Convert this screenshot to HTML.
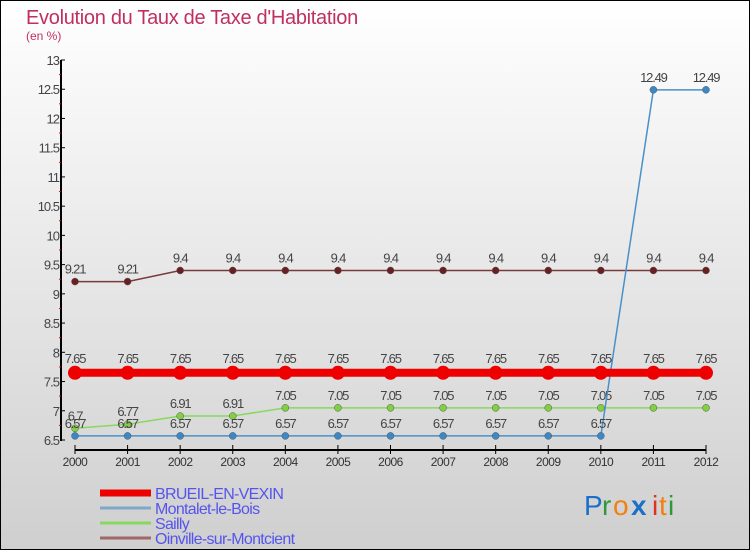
<!DOCTYPE html>
<html><head><meta charset="utf-8"><style>
body{margin:0;width:750px;height:550px;overflow:hidden}
svg{display:block;font-family:"Liberation Sans",sans-serif}
</style></head><body>
<svg width="750" height="550">
<defs><linearGradient id="bg" x1="0" y1="0" x2="0" y2="1"><stop offset="0" stop-color="#ffffff"/><stop offset="1" stop-color="#cfcfcf"/></linearGradient></defs>
<rect x="0.5" y="0.5" width="749" height="549" fill="url(#bg)" stroke="#000"/>
<text x="26" y="24" font-size="20" fill="#c0305e" letter-spacing="-0.3">Evolution du Taux de Taxe d'Habitation</text>
<text x="26" y="40" font-size="12" fill="#c0305e">(en %)</text>
<g id="axes"></g><g id="series"></g><g id="legend"></g>
<g font-size="28">
<text x="584" y="515" fill="#1a6fc9">P</text><text x="602" y="515" fill="#2a9a3a">r</text><text x="613" y="515" fill="#f08010">o</text><text x="631" y="515" fill="#1a6fc9" font-weight="bold">x</text><text x="652" y="515" fill="#e03020">i</text><text x="659" y="515" fill="#f08010">t</text><text x="668" y="515" fill="#2a9a3a">i</text>
</g>
</svg>
<script>
const years=[2000,2001,2002,2003,2004,2005,2006,2007,2008,2009,2010,2011,2012];
const brueil=[7.65,7.65,7.65,7.65,7.65,7.65,7.65,7.65,7.65,7.65,7.65,7.65,7.65];
const montalet=[6.57,6.57,6.57,6.57,6.57,6.57,6.57,6.57,6.57,6.57,6.57,12.49,12.49];
const sailly=[6.7,6.77,6.91,6.91,7.05,7.05,7.05,7.05,7.05,7.05,7.05,7.05,7.05];
const oinville=[9.21,9.21,9.4,9.4,9.4,9.4,9.4,9.4,9.4,9.4,9.4,9.4,9.4];
const yTicks=[6.5,7,7.5,8,8.5,9,9.5,10,10.5,11,11.5,12,12.5,13];
const seriesNames=["BRUEIL-EN-VEXIN","Montalet-le-Bois","Sailly","Oinville-sur-Montcient"];
const NS="http://www.w3.org/2000/svg";
const X=i=>75+i*(706-75)/(years.length-1);
const Y=v=>440-(v-6.5)*(380/6.5);
function mk(p,t,a){const e=document.createElementNS(NS,t);for(const k in a)e.setAttribute(k,a[k]);p.appendChild(e);return e;}
const ax=document.getElementById('axes');
let l=mk(ax,'line',{x1:61,y1:60,x2:61,y2:441,stroke:'#000','stroke-width':2});


yTicks.forEach((v,i)=>{
 mk(ax,'line',{x1:61,y1:Y(v),x2:65,y2:Y(v),stroke:'#000'});
 if(i<yTicks.length-1)mk(ax,'line',{x1:59,y1:Y(v+0.25),x2:61,y2:Y(v+0.25),stroke:'#e00'});
 const t=mk(ax,'text',{x:59,y:Y(v)+5,'font-size':13,'text-anchor':'end',fill:'#444','letter-spacing':'-1'});
 t.textContent=v;
 
 
});
l=mk(ax,'line',{x1:75,y1:450,x2:706,y2:450,stroke:'#000','stroke-width':2});


years.forEach((y,i)=>{
 mk(ax,'line',{x1:X(i),y1:445,x2:X(i),y2:454,stroke:'#000'});
 const t=mk(ax,'text',{x:X(i),y:466,'font-size':12,'text-anchor':'middle',fill:'#333','letter-spacing':'-0.5'});
 t.textContent=y;
 
 
});
const sg=document.getElementById('series');
const defs=[[brueil,'#ee0000',8,7,'brueil'],[montalet,'#4a90c8',1.5,3.5,'montalet'],[sailly,'#88d860',1.5,3.5,'sailly'],[oinville,'#7a3a3a',1.5,3.5,'oinville']];
const order=[3,2,1,0];
order.forEach(k=>{
 const [d,c,w,r,n]=defs[k];
 const g=mk(sg,'g',{});
 
 
 const pl=mk(g,'polyline',{points:d.map((v,i)=>X(i)+','+Y(v)).join(' '),fill:'none',stroke:c,'stroke-width':w});
 
 
 const pc=k==0?'#ee0000':(k==1?'#3a88c8':(k==2?'#80d040':'#6a2020'));
 d.forEach((v,i)=>{
  const p=mk(g,'circle',{cx:X(i),cy:Y(v),r:r,fill:pc,stroke:k==0?'none':'#555','stroke-width':0.5});
  
  
  const t=mk(g,'text',{x:X(i),y:Y(v)-(k==0?10:8),'font-size':13,'text-anchor':'middle',fill:'#444','letter-spacing':'-1.2'});
  t.textContent=v;
  
  
 });
});
const lg=document.getElementById('legend');
const lc=['#ee0000','#7fa8c8','#88d860','#a06868'],lw=[7,3,3,3];
seriesNames.forEach((s,i)=>{
 const y=493+i*15;
 const g=mk(lg,'g',{});
 
 
 mk(g,'line',{x1:100,y1:y,x2:151,y2:y,stroke:lc[i],'stroke-width':lw[i]});
 const t=mk(g,'text',{x:155,y:y+6,'font-size':16,fill:'#5555ee','letter-spacing':'-0.7'});
 t.textContent=s;
});
</script>
</body></html>
